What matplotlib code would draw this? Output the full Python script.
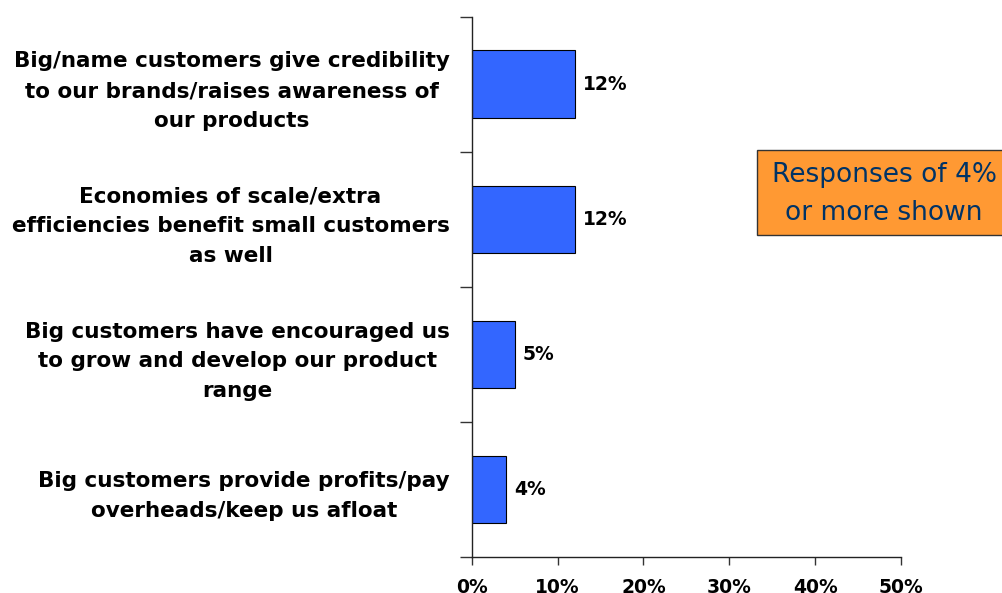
import matplotlib.pyplot as plt
from matplotlib.patches import Rectangle
from matplotlib.ticker import FixedLocator

categories = [
    "Big/name customers give credibility\nto our brands/raises awareness of\nour products",
    "Economies of scale/extra\nefficiencies benefit small customers\nas well",
    "Big customers have encouraged us\nto grow and develop our product\nrange",
    "Big customers provide profits/pay\noverheads/keep us afloat",
]
values = [12, 12, 5, 4]
xticks = [0, 10, 20, 30, 40, 50]
xtick_labels = ["0%", "10%", "20%", "30%", "40%", "50%"]

plt.rcParams["font.family"] = ["DejaVu Sans"]

fig = plt.figure(figsize=(10.02, 5.93), dpi=100)
ax = fig.add_axes([0.4708, 0.0607, 0.4285, 0.9112])

y = list(range(len(categories)))
ax.barh(y, values, height=0.5, color="#3366FF", edgecolor="black", linewidth=0.8)

for yi, v in zip(y, values):
    ax.text(v + 0.9, yi, f"{v}%", va="center", ha="left", fontsize=13.5, fontweight="bold")

ax.set_xlim(0, 50)
ax.set_ylim(len(categories) - 0.5, -0.5)

ax.set_xticks(xticks)
ax.set_xticklabels(xtick_labels, fontsize=13.5, fontweight="bold")
ax.tick_params(axis="x", length=6, width=1, pad=9, color="#333333")

ax.set_yticks(y)
ax.set_yticklabels(categories, fontsize=15.5, fontweight="bold", multialignment="center", linespacing=1.6)
ax.tick_params(axis="y", which="major", length=0, pad=16)
ax.yaxis.set_minor_locator(FixedLocator([i - 0.5 for i in range(len(categories) + 1)]))
ax.tick_params(axis="y", which="minor", length=9, width=1, color="#333333")

for s in ["top", "right"]:
    ax.spines[s].set_visible(False)
for s in ["left", "bottom"]:
    ax.spines[s].set_color("#222222")
    ax.spines[s].set_linewidth(1)

# note box, partly running off the right edge
fig.patches.append(Rectangle((757 / 1002, 1 - 235 / 593), 260 / 1002, 85 / 593,
                             transform=fig.transFigure, facecolor="#FF9933",
                             edgecolor="#333333", linewidth=1))
fig.text(884 / 1002, 1 - 194 / 593, "Responses of 4%\nor more shown", ha="center", va="center",
         fontsize=19, color="#003366", linespacing=1.55)

fig.savefig("out.png", dpi=100)
